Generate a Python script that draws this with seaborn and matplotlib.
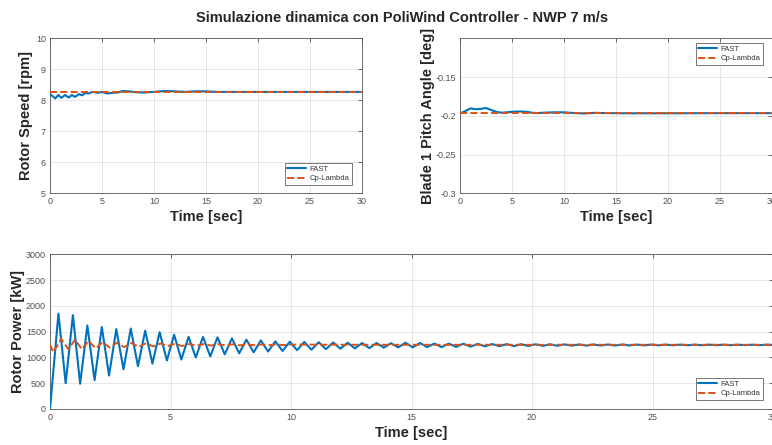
import numpy as np
import pandas as pd
import matplotlib
matplotlib.use("Agg")
import matplotlib.pyplot as plt
import seaborn as sns

TITLE = "Simulazione dinamica con PoliWind Controller - NWP 7 m/s"
series_names = ["FAST", "Cp-Lambda"]
x_label = "Time [sec]"
y_labels = ["Rotor Speed [rpm]", "Blade 1 Pitch Angle [deg]", "Rotor Power [kW]"]

# ---- Rotor speed [rpm]
speed_fast_t = [0, 0.3, 0.5, 0.8, 1.1, 1.45, 1.8, 2.1, 2.4, 2.8, 3.1, 3.4, 3.7, 4.1, 4.6,
                5.0, 5.5, 6.0, 6.5, 7.0, 7.6, 8.2, 9.0, 10.0, 11.0, 12.0, 13.0, 14.0,
                15.0, 16.0, 18.0, 20.0, 25.0, 30.0]
speed_fast = [8.20, 8.12, 8.06, 8.17, 8.08, 8.17, 8.09, 8.17, 8.11, 8.20, 8.16, 8.24, 8.22,
              8.27, 8.24, 8.27, 8.22, 8.24, 8.25, 8.30, 8.29, 8.26, 8.25, 8.27, 8.30, 8.29,
              8.27, 8.29, 8.29, 8.27, 8.27, 8.27, 8.27, 8.27]
speed_cp_t = [0, 30]
speed_cp = [8.27, 8.27]

# ---- Blade 1 pitch angle [deg]
pitch_fast_t = [0, 0.5, 1.0, 1.5, 2.0, 2.5, 3.0, 3.5, 4.0, 4.5, 5.0, 5.5, 6.0, 6.5, 7.0,
                7.5, 8.0, 9.0, 10.0, 11.0, 12.0, 13.0, 14.0, 16.0, 20.0, 25.0, 30.0]
pitch_fast = [-0.197, -0.194, -0.1905, -0.1915, -0.191, -0.190, -0.1925, -0.195, -0.196,
              -0.1955, -0.1948, -0.1945, -0.1945, -0.195, -0.1962, -0.1965, -0.196,
              -0.1955, -0.1955, -0.1965, -0.197, -0.1962, -0.1965, -0.1968, -0.1968,
              -0.1966, -0.1966]
pitch_cp_t = [0, 30]
pitch_cp = [-0.197, -0.197]

# ---- Rotor power [kW]  (FAST: start, then successive peaks/troughs every half period)
power_fast_t = np.concatenate([[0.0], np.arange(0.35, 29.8, 0.3), [30.0]])
power_fast = [0,
              1850, 500, 1820, 490, 1620, 560, 1590, 650, 1550, 770,
              1560, 830, 1520, 880, 1490, 940, 1440, 960, 1400, 1000,
              1400, 1020, 1390, 1060, 1370, 1080, 1345, 1100, 1330, 1115,
              1310, 1125, 1305, 1140, 1300, 1150, 1295, 1160, 1290, 1170,
              1285, 1175, 1280, 1180, 1280, 1190, 1275, 1195, 1285, 1195,
              1280, 1200, 1270, 1200, 1268, 1205, 1265, 1210, 1262, 1215,
              1260, 1218, 1258, 1220, 1256, 1222, 1255, 1225, 1254, 1226,
              1253, 1228, 1252, 1229, 1252, 1230, 1251, 1231, 1251, 1232,
              1250, 1233, 1250, 1234, 1249, 1235, 1249, 1236, 1248, 1236,
              1248, 1237, 1248, 1237, 1247, 1238, 1247, 1238, 1247,
              1242]
power_cp_t = [0, 0.14, 0.46, 0.76, 1.04, 1.32, 1.6, 1.9, 2.18, 2.48, 2.78, 3.08, 3.38, 3.68,
              3.98, 4.28, 4.58, 4.88, 5.18, 5.48, 5.78, 6.08, 6.38, 6.68, 6.98, 7.28, 7.58,
              7.88, 8.18, 8.48, 8.78, 9.08, 9.38, 9.68, 10.0, 12.0, 15.0, 20.0, 30.0]
power_cp = [1250, 1100, 1360, 1160, 1345, 1160, 1320, 1175, 1300, 1190, 1285, 1200, 1280,
            1205, 1275, 1212, 1270, 1218, 1266, 1222, 1262, 1226, 1260, 1230, 1258, 1232,
            1256, 1234, 1254, 1236, 1252, 1238, 1251, 1240, 1250, 1246, 1245, 1245, 1245]

BLUE = "#0072BD"
ORANGE = "#D95319"

sns.set_theme(style="whitegrid")
plt.rcParams['font.family'] = ['Liberation Sans', 'DejaVu Sans']
plt.rcParams['axes.unicode_minus'] = False

fig = plt.figure(figsize=(7.72, 4.45), dpi=100)
fig.patch.set_facecolor("white")

ax1 = fig.add_axes([50 / 772, 1 - 193.3 / 445, 312 / 772, 155 / 445])
ax2 = fig.add_axes([460 / 772, 1 - 193.3 / 445, 312 / 772, 155 / 445])
ax3 = fig.add_axes([50 / 772, 1 - 409 / 445, 723 / 772, 154.7 / 445])


def draw(ax, tf, yf, tc, yc):
    d1 = pd.DataFrame({"t": tf, "v": yf})
    d2 = pd.DataFrame({"t": tc, "v": yc})
    sns.lineplot(data=d1, x="t", y="v", ax=ax, color=BLUE, lw=1.5, label=series_names[0],
                 estimator=None, sort=False, zorder=3, solid_joinstyle="round")
    sns.lineplot(data=d2, x="t", y="v", ax=ax, color=ORANGE, lw=1.4, linestyle="--",
                 label=series_names[1], estimator=None, sort=False, zorder=4,
                 dash_joinstyle="round")


def style(ax, ylim, yticks, ylabels, ylabel, ylab_x, xticks, leg_loc, leg_anchor):
    ax.set_facecolor("white")
    ax.set_xlim(0, 30)
    ax.set_ylim(*ylim)
    ax.set_xticks(xticks)
    ax.set_xticklabels([str(v) for v in xticks])
    ax.set_yticks(yticks)
    ax.set_yticklabels(ylabels)
    ax.grid(True, color="#e2e2e2", lw=0.6)
    for s in ax.spines.values():
        s.set_visible(True)
        s.set_color("#555555")
        s.set_linewidth(0.6)
    ax.tick_params(axis="both", direction="in", top=True, right=True, length=3, width=0.5,
                   labelsize=6.5, labelcolor="#505050", color="#333333", pad=3)
    ax.set_xlabel(x_label, fontsize=10.5, fontweight="bold", color="#262626")
    ax.xaxis.set_label_coords(0.5, -0.11)
    ax.set_ylabel(ylabel, fontsize=10.5, fontweight="bold", color="#262626")
    ax.yaxis.set_label_coords(ylab_x, 0.5)
    leg = ax.legend(loc=leg_loc, bbox_to_anchor=leg_anchor, fontsize=5.5, frameon=True,
                    fancybox=False, edgecolor="#444444", framealpha=1, handlelength=2.5,
                    borderpad=0.35, labelspacing=0.25, handletextpad=0.4, borderaxespad=0)
    leg.get_frame().set_linewidth(0.5)
    for t in leg.get_texts():
        t.set_color("#333333")


draw(ax1, speed_fast_t, speed_fast, speed_cp_t, speed_cp)
style(ax1, (5, 10), [5, 6, 7, 8, 9, 10], ["5", "6", "7", "8", "9", "10"], y_labels[0],
      -0.055, [0, 5, 10, 15, 20, 25, 30], "lower right", (0.968, 0.054))

draw(ax2, pitch_fast_t, pitch_fast, pitch_cp_t, pitch_cp)
style(ax2, (-0.3, -0.1), [-0.3, -0.25, -0.2, -0.15], ["-0.3", "-0.25", "-0.2", "-0.15"],
      y_labels[1], -0.080, [0, 5, 10, 15, 20, 25, 30], "upper right", (0.971, 0.97))

draw(ax3, power_fast_t, power_fast, power_cp_t, power_cp)
style(ax3, (0, 3000), [0, 500, 1000, 1500, 2000, 2500, 3000],
      ["0", "500", "1000", "1500", "2000", "2500", "3000"], y_labels[2],
      -0.035, [0, 5, 10, 15, 20, 25, 30], "lower right", (0.986, 0.058))

fig.text(0.521, 1 - 17.5 / 445, TITLE, ha="center", va="center", fontsize=10.5,
         fontweight="bold", color="#262626")

fig.savefig("out.png", dpi=100, facecolor="white")
